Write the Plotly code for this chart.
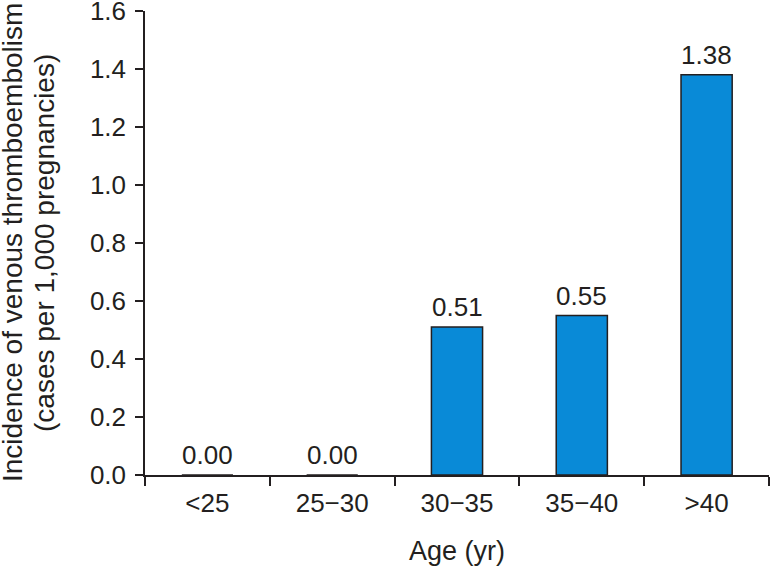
import plotly.graph_objects as go

categories = ["<25", "25−30", "30−35", "35−40", ">40"]
values = [0.00, 0.00, 0.51, 0.55, 1.38]
value_labels = ["0.00", "0.00", "0.51", "0.55", "1.38"]
y_title_lines = ["Incidence of venous thromboembolism", "(cases per 1,000 pregnancies)"]
x_title = "Age (yr)"

FONT = "Liberation Sans, Arial, sans-serif"
TXT = "#231f20"
FS = 26

fig = go.Figure()
fig.add_trace(go.Bar(
    x=categories, y=values, width=0.41,
    marker=dict(color="#098ad7", line=dict(color=TXT, width=1.5)),
    hoverinfo="skip",
))
for c, v, lab in zip(categories, values, value_labels):
    fig.add_annotation(x=c, y=v, text=lab, showarrow=False, yanchor="bottom",
                       yshift=3, font=dict(size=FS, color=TXT, family=FONT))

# y-axis title as two rotated lines
for xpos, line in zip([-0.2131, -0.1619], y_title_lines):
    fig.add_annotation(xref="paper", yref="paper", x=xpos, y=0.5, text=line,
                       textangle=-90, showarrow=False, xanchor="center", yanchor="middle",
                       font=dict(size=28, color=TXT, family=FONT))

fig.update_layout(
    width=771, height=566,
    margin=dict(l=145, r=2, t=11, b=91),
    paper_bgcolor="white", plot_bgcolor="white",
    showlegend=False,
    font=dict(family=FONT, size=FS, color=TXT),
    xaxis=dict(
        type="category", range=[-0.5, 4.5], tickson="boundaries",
        showline=True, linecolor=TXT, linewidth=1.5,
        ticks="outside", ticklen=9, tickwidth=1.5, tickcolor=TXT,
        ticklabelstandoff=4,
        showgrid=False, zeroline=False,
        tickfont=dict(size=FS, color=TXT, family=FONT),
        title=dict(text=x_title, font=dict(size=27, color=TXT, family=FONT), standoff=24),
        automargin=False,
    ),
    yaxis=dict(
        range=[0, 1.6], tickmode="array",
        tickvals=[0.0, 0.2, 0.4, 0.6, 0.8, 1.0, 1.2, 1.4, 1.6],
        tickformat=".1f", ticklabeloverflow="allow",
        showline=True, linecolor=TXT, linewidth=1.5,
        ticks="outside", ticklen=8, tickwidth=1.5, tickcolor=TXT,
        ticklabelstandoff=4,
        showgrid=False, zeroline=False,
        tickfont=dict(size=FS, color=TXT, family=FONT),
        automargin=False,
    ),
)

fig.write_html("out.html", config={"displayModeBar": False},
               post_script="document.body.style.margin='0';")
